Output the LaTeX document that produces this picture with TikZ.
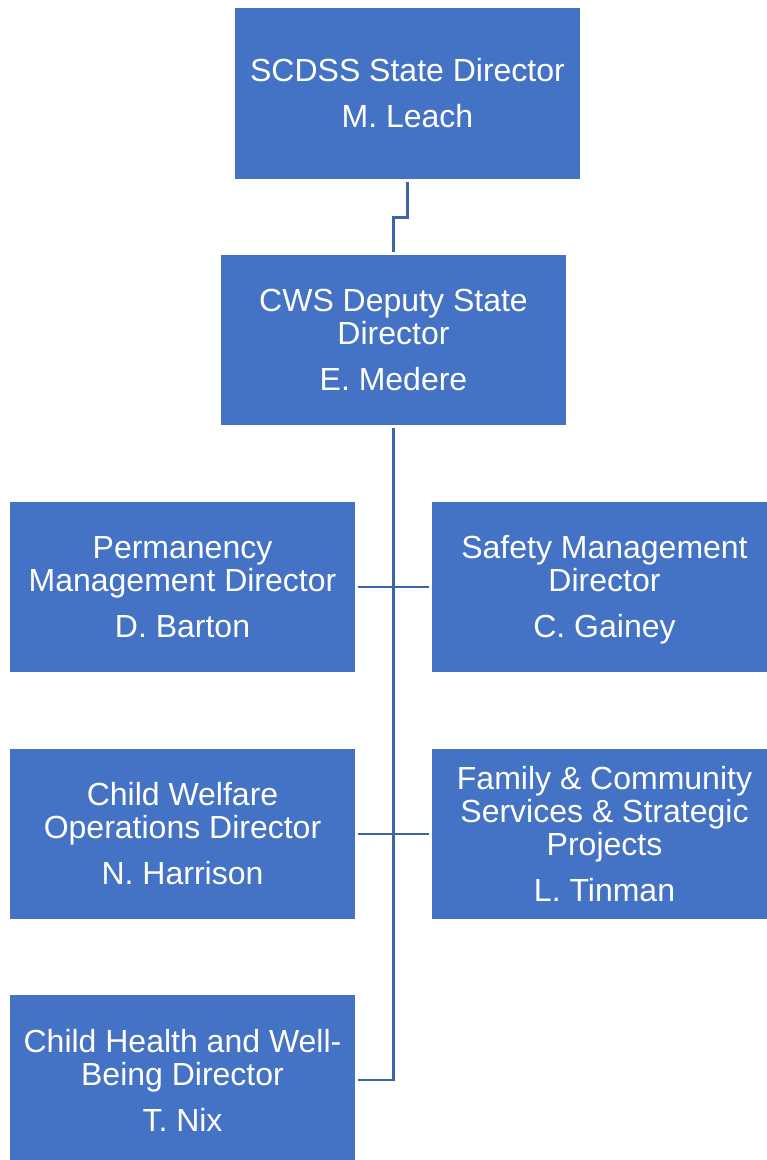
\documentclass[tikz,border=0pt]{standalone}
\usepackage{fontspec}
\setmainfont{Liberation Sans}
\definecolor{boxblue}{HTML}{4472C4}
\definecolor{lineblue}{HTML}{3B64AD}
\begin{document}
\begin{tikzpicture}[x=0.75pt,y=-0.75pt,
  orgbox/.style={rectangle, fill=boxblue, draw=none, text=white, align=center,
    minimum width=258.75pt, minimum height=127.5pt, inner sep=0pt,
    font=\fontsize{24}{24.75}\selectfont},
  conn/.style={draw=lineblue, line width=1.9pt}]
\useasboundingbox (0,0) rectangle (767,1160);
\node[orgbox, minimum height=128.25pt] (top) at (407.5,93.5) {SCDSS State Director\\[9.75pt]M. Leach};
\node[orgbox] (dep) at (393.5,340) {CWS Deputy State\\Director\\[9.75pt]E. Medere};
\node[orgbox] (l1) at (182.5,587) {Permanency\\Management Director\\[9.75pt]D. Barton};
\node[orgbox] (r1) at (604.5,587) {Safety Management\\Director\\[9.75pt]C. Gaine\smash{y}};
\node[orgbox] (l2) at (182.5,834) {Child Welfare\\Operations Director\\[9.75pt]N. Harrison};
\node[orgbox] (r2) at (604.5,834) {Family \& Community\\Services \& Strategic\\Projects\\[9.75pt]L. Tinman};
\node[orgbox] (l3) at (182.5,1080) {Child Health and Well-\\Being Director\\[9.75pt]T. Nix};
\draw[conn] ([yshift=-2.25pt]top.south) -- ++(0,35) -| ([yshift=2.25pt]dep.north);
\draw[conn] ([yshift=-2.25pt]dep.south) |- ([xshift=2.25pt]l3.east);
\draw[conn] ([xshift=2.25pt]l1.east) -- ([xshift=-2.25pt]r1.west);
\draw[conn] ([xshift=2.25pt]l2.east) -- ([xshift=-2.25pt]r2.west);
\end{tikzpicture}
\end{document}
